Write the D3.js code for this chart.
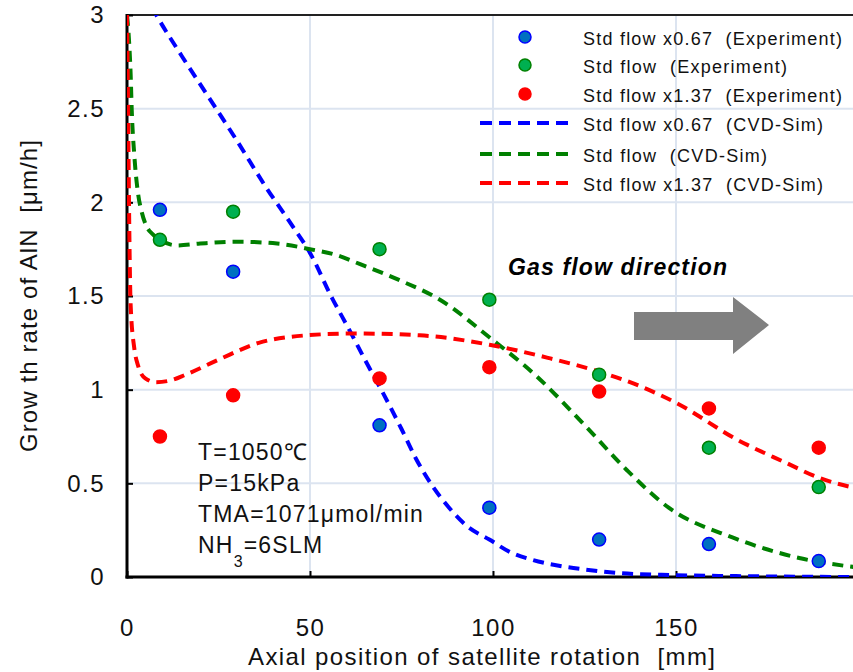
<!DOCTYPE html>
<html>
<head>
<meta charset="utf-8">
<script src="https://cdn.jsdelivr.net/npm/d3@7"></script>
<style>
  body { margin: 0; background: #fff; }
  svg { display: block; font-family: "Liberation Sans", Arial, sans-serif; }
  text { white-space: pre; }
</style>
</head>
<body>
<div id="chart"></div>
<script>
// experiment points (mm, um/h)
const expX = [9, 29, 69, 99, 129, 159, 189];
const expLow = [1.96, 1.63, 0.81, 0.37, 0.20, 0.176, 0.085];
const expStd = [1.80, 1.95, 1.75, 1.48, 1.08, 0.69, 0.48];
const expHigh = [0.75, 0.97, 1.06, 1.12, 0.99, 0.90, 0.69];

// CVD-Sim curves
const simLowX = [0, 8, 15, 22.7, 30, 38, 45, 50, 56, 61, 65, 70, 75, 79, 84, 88, 93, 99, 105, 111, 118, 125, 135, 150, 170, 200];
const simLow = [3.3, 3.0, 2.78, 2.55, 2.33, 2.08, 1.88, 1.73, 1.49, 1.31, 1.16, 0.98, 0.79, 0.63, 0.47, 0.37, 0.27, 0.2, 0.13, 0.09, 0.06, 0.04, 0.02, 0.01, 0.004, 0];
const simStdX = [0, 0.5, 1, 1.3, 2, 3, 4, 5.4, 7, 9, 13.6, 20, 30, 41, 50, 57, 63.7, 75, 85.5, 99, 112, 124.6, 136.6, 148, 165.6, 184, 200];
const simStd = [3.0, 2.88, 2.68, 2.49, 2.25, 2.05, 1.95, 1.87, 1.83, 1.8, 1.77, 1.78, 1.79, 1.78, 1.75, 1.72, 1.67, 1.58, 1.48, 1.28, 1.07, 0.82, 0.57, 0.37, 0.21, 0.1, 0.05];
const simHighX = [0, 0.3, 0.6, 1, 2, 3, 5, 8, 12, 16, 25, 36, 49, 62, 80, 99, 115, 130, 140, 150, 167, 180, 189, 200];
const simHigh = [3.0, 2.5, 1.9, 1.45, 1.22, 1.13, 1.06, 1.04, 1.05, 1.08, 1.16, 1.25, 1.29, 1.3, 1.29, 1.24, 1.17, 1.09, 1.02, 0.93, 0.73, 0.61, 0.53, 0.47];

const xTicks = [0, 50, 100, 150];
const yTicks = [0, 0.5, 1, 1.5, 2, 2.5, 3];

const legendLabels = [
  "Std flow x0.67  (Experiment)",
  "Std flow  (Experiment)",
  "Std flow x1.37  (Experiment)",
  "Std flow x0.67  (CVD-Sim)",
  "Std flow  (CVD-Sim)",
  "Std flow x1.37  (CVD-Sim)"
];
const legendWidths = [259, 204, 259, 240, 184, 240];

const width = 853, height = 672;
const x0 = 127, x1 = 859, yTop = 15, yBot = 577;

const xScale = d3.scaleLinear().domain([0, 200]).range([x0, x1]);
const yScale = d3.scaleLinear().domain([0, 3]).range([yBot, yTop]);

const svg = d3.select('#chart').append('svg')
  .attr('width', width).attr('height', height);

svg.append('clipPath').attr('id', 'plotclip')
  .append('rect').attr('x', x0).attr('y', yTop).attr('width', width - x0).attr('height', yBot - yTop);

// grid
const grid = svg.append('g');
grid.selectAll('line.gx').data([50, 100, 150]).enter().append('line')
  .attr('x1', d => xScale(d)).attr('x2', d => xScale(d))
  .attr('y1', yTop).attr('y2', yBot)
  .attr('stroke', '#dce4f0').attr('stroke-width', 2);
grid.selectAll('line.gy').data([0.5, 1, 1.5, 2, 2.5]).enter().append('line')
  .attr('x1', x0).attr('x2', width)
  .attr('y1', d => yScale(d)).attr('y2', d => yScale(d))
  .attr('stroke', '#dce4f0').attr('stroke-width', 2);

// top border
svg.append('line').attr('x1', x0).attr('x2', width).attr('y1', yTop).attr('y2', yTop)
  .attr('stroke', '#222').attr('stroke-width', 2);

// axes
const yAxis = svg.append('g')
  .attr('transform', `translate(${x0},0)`)
  .call(d3.axisLeft(yScale).tickValues(yTicks).tickFormat(d3.format('')).tickSize(-6).tickPadding(22));
const xAxis = svg.append('g')
  .attr('transform', `translate(0,${yBot})`)
  .call(d3.axisBottom(xScale).tickValues(xTicks).tickSize(-6).tickPadding(42));
[xAxis, yAxis].forEach(a => {
  a.select('.domain').remove();
  a.selectAll('line').attr('stroke', '#000').attr('stroke-width', 2);
  a.selectAll('text').attr('font-size', 24).attr('fill', '#111')
    .attr('letter-spacing', 1.5)
    .style('font-family', '"Liberation Sans", Arial, sans-serif');
});
svg.append('line').attr('x1', x0).attr('x2', x0).attr('y1', yTop - 1).attr('y2', yBot + 1.5)
  .attr('stroke', '#000').attr('stroke-width', 3);
svg.append('line').attr('x1', x0 - 1.5).attr('x2', width).attr('y1', yBot).attr('y2', yBot)
  .attr('stroke', '#000').attr('stroke-width', 3);

// sim curves
const sims = [
  { xs: simLowX, ys: simLow, color: '#0000ff' },
  { xs: simStdX, ys: simStd, color: '#008000' },
  { xs: simHighX, ys: simHigh, color: '#ff0000' }
];
const line = d3.line().x(d => xScale(d[0])).y(d => yScale(d[1])).curve(d3.curveMonotoneX);
const curves = svg.append('g').attr('clip-path', 'url(#plotclip)');
sims.forEach(s => {
  curves.append('path')
    .datum(s.xs.map((v, i) => [v, s.ys[i]]))
    .attr('d', line)
    .attr('fill', 'none')
    .attr('stroke', s.color)
    .attr('stroke-width', 4)
    .attr('stroke-dasharray', '11,7');
});

// experiment points
const exps = [
  { ys: expLow, fill: '#0070c0', stroke: '#0000ff' },
  { ys: expStd, fill: '#00b050', stroke: '#008000' },
  { ys: expHigh, fill: '#ff0000', stroke: '#ff0000' }
];
exps.forEach(s => {
  svg.append('g').selectAll('circle')
    .data(expX.map((v, i) => [v, s.ys[i]]))
    .enter().append('circle')
    .attr('cx', d => xScale(d[0]))
    .attr('cy', d => yScale(d[1]))
    .attr('r', 6.5)
    .attr('fill', s.fill)
    .attr('stroke', s.stroke)
    .attr('stroke-width', 1.5);
});

// legend
const legend = svg.append('g');
const rowY = [37, 65, 94, 123, 154, 183];
legendLabels.forEach((lab, i) => {
  const y = rowY[i];
  if (i < 3) {
    legend.append('circle').attr('cx', 525).attr('cy', y).attr('r', 6)
      .attr('fill', exps[i].fill).attr('stroke', exps[i].stroke).attr('stroke-width', 1.5);
  } else {
    legend.append('line').attr('x1', 480).attr('x2', 573).attr('y1', y).attr('y2', y)
      .attr('stroke', sims[i - 3].color).attr('stroke-width', 4).attr('stroke-dasharray', '12,7');
  }
  legend.append('text').attr('x', 583).attr('y', y + 8)
    .attr('font-size', 18).attr('fill', '#111')
    .attr('textLength', legendWidths[i]).attr('lengthAdjust', 'spacing')
    .text(lab);
});

// conditions
const cond = svg.append('g').attr('font-size', 23).attr('fill', '#111').attr('letter-spacing', 1.2);
cond.append('text').attr('x', 198).attr('y', 460).text('T=1050℃');
cond.append('text').attr('x', 198).attr('y', 491).text('P=15kPa');
cond.append('text').attr('x', 198).attr('y', 522).text('TMA=1071μmol/min');
const nh = cond.append('text').attr('x', 198).attr('y', 553);
nh.append('tspan').text('NH');
nh.append('tspan').attr('font-size', 16).attr('dy', 14).text('3');
nh.append('tspan').attr('dy', -14).text('=6SLM');

// gas flow
svg.append('text').attr('x', 508).attr('y', 275)
  .attr('font-size', 23).attr('font-weight', 'bold').attr('font-style', 'italic')
  .attr('textLength', 219).attr('lengthAdjust', 'spacing')
  .attr('fill', '#000').text('Gas flow direction');
svg.append('path')
  .attr('d', 'M634,312 L733,312 L733,297 L769,325 L733,354 L733,340 L634,340 Z')
  .attr('fill', '#808080');

// axis titles
svg.append('text').attr('x', 248).attr('y', 665)
  .attr('font-size', 24).attr('fill', '#111')
  .attr('textLength', 467).attr('lengthAdjust', 'spacing')
  .text('Axial position of satellite rotation  [mm]');
svg.append('text').attr('transform', 'translate(37,452) rotate(-90)')
  .attr('font-size', 24).attr('fill', '#111')
  .attr('textLength', 312).attr('lengthAdjust', 'spacing')
  .text('Grow th rate of AlN  [μm/h]');
</script>
</body>
</html>
